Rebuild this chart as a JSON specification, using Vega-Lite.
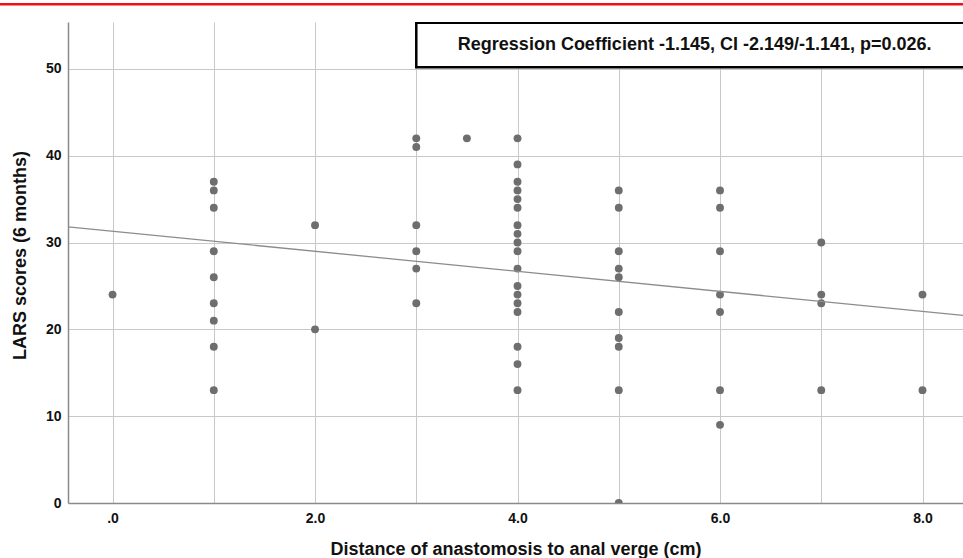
{
  "$schema": "https://vega.github.io/schema/vega-lite/v6.json",
  "width": 895,
  "height": 481,
  "autosize": {"type": "none"},
  "padding": {"left": 68, "top": 22, "right": 0, "bottom": 55},
  "background": "white",
  "config": {
    "view": {"stroke": null},
    "font": "Liberation Sans",
    "axis": {
      "labelFont": "Liberation Sans",
      "titleFont": "Liberation Sans",
      "labelFontWeight": "bold",
      "labelFontSize": 14,
      "labelColor": "#111111",
      "titleColor": "#111111",
      "titleFontWeight": "bold",
      "titleFontSize": 18,
      "gridColor": "#c8c8c8",
      "gridWidth": 1,
      "domainColor": "#8a8a8a",
      "domainWidth": 1.5,
      "ticks": false,
      "tickSize": 0
    }
  },
  "datasets": {
    "pts": [
      {"dist": 0, "lars": 24},
      {"dist": 1, "lars": 37}, {"dist": 1, "lars": 36}, {"dist": 1, "lars": 34}, {"dist": 1, "lars": 29}, {"dist": 1, "lars": 26}, {"dist": 1, "lars": 23}, {"dist": 1, "lars": 21}, {"dist": 1, "lars": 18}, {"dist": 1, "lars": 13},
      {"dist": 2, "lars": 32}, {"dist": 2, "lars": 20},
      {"dist": 3, "lars": 42}, {"dist": 3, "lars": 41}, {"dist": 3, "lars": 32}, {"dist": 3, "lars": 29}, {"dist": 3, "lars": 27}, {"dist": 3, "lars": 23},
      {"dist": 3.5, "lars": 42},
      {"dist": 4, "lars": 42}, {"dist": 4, "lars": 39}, {"dist": 4, "lars": 37}, {"dist": 4, "lars": 36}, {"dist": 4, "lars": 35}, {"dist": 4, "lars": 34}, {"dist": 4, "lars": 32}, {"dist": 4, "lars": 31}, {"dist": 4, "lars": 30}, {"dist": 4, "lars": 29}, {"dist": 4, "lars": 27}, {"dist": 4, "lars": 25}, {"dist": 4, "lars": 24}, {"dist": 4, "lars": 23}, {"dist": 4, "lars": 22}, {"dist": 4, "lars": 18}, {"dist": 4, "lars": 16}, {"dist": 4, "lars": 13},
      {"dist": 5, "lars": 36}, {"dist": 5, "lars": 34}, {"dist": 5, "lars": 29}, {"dist": 5, "lars": 27}, {"dist": 5, "lars": 26}, {"dist": 5, "lars": 22}, {"dist": 5, "lars": 19}, {"dist": 5, "lars": 18}, {"dist": 5, "lars": 13}, {"dist": 5, "lars": 0},
      {"dist": 6, "lars": 36}, {"dist": 6, "lars": 34}, {"dist": 6, "lars": 29}, {"dist": 6, "lars": 24}, {"dist": 6, "lars": 22}, {"dist": 6, "lars": 13}, {"dist": 6, "lars": 9},
      {"dist": 7, "lars": 30}, {"dist": 7, "lars": 24}, {"dist": 7, "lars": 23}, {"dist": 7, "lars": 13},
      {"dist": 8, "lars": 24}, {"dist": 8, "lars": 13}
    ],
    "fit": [
      {"dist": -0.44, "lars": 31.81},
      {"dist": 8.40, "lars": 21.60}
    ],
    "note": [
      {"label": "Regression Coefficient -1.145, CI -2.149/-1.141, p=0.026."}
    ]
  },
  "layer": [
    {
      "data": {"name": "pts"},
      "mark": {"type": "circle", "size": 62, "color": "#6e6e6e", "opacity": 1, "clip": true},
      "encoding": {
        "x": {
          "field": "dist", "type": "quantitative",
          "scale": {"domain": [-0.44, 8.40], "nice": false, "zero": false},
          "axis": {
            "title": "Distance of anastomosis to anal verge (cm)",
            "values": [0, 1, 2, 3, 4, 5, 6, 7, 8],
            "labelExpr": "datum.value % 2 == 0 ? (datum.value == 0 ? '.0' : format(datum.value, '.1f')) : ''",
            "labelPadding": 8,
            "titleY": 46,
            "titleBaseline": "middle",
            "grid": true
          }
        },
        "y": {
          "field": "lars", "type": "quantitative",
          "scale": {"domain": [0, 55.4], "nice": false, "zero": true},
          "axis": {
            "title": "LARS scores (6 months)",
            "values": [0, 10, 20, 30, 40, 50],
            "labelPadding": 7,
            "titleX": -48,
            "titleY": 233,
            "titleBaseline": "middle",
            "titleAlign": "center",
            "titleAngle": -90,
            "grid": true
          }
        }
      }
    },
    {
      "data": {"name": "fit"},
      "mark": {"type": "line", "color": "#8c8c8c", "strokeWidth": 1.3, "clip": true},
      "encoding": {
        "x": {"field": "dist", "type": "quantitative"},
        "y": {"field": "lars", "type": "quantitative"}
      }
    },
    {
      "data": {"name": "note"},
      "mark": {"type": "rect", "fill": "white", "stroke": "black", "strokeWidth": 2.5, "clip": true},
      "encoding": {
        "x": {"datum": 3.0},
        "x2": {"datum": 8.7},
        "y": {"datum": 50.2},
        "y2": {"datum": 55.3}
      }
    },
    {
      "data": {"name": "note"},
      "mark": {"type": "text", "fontSize": 18, "fontWeight": "bold", "color": "#111111", "align": "center", "baseline": "middle"},
      "encoding": {
        "x": {"datum": 5.75},
        "y": {"datum": 52.75},
        "text": {"field": "label"}
      }
    },
    {
      "data": {"name": "note"},
      "mark": {"type": "rule", "color": "#ee1111", "strokeWidth": 2.5, "clip": false},
      "encoding": {
        "x": {"datum": -1.12},
        "x2": {"datum": 8.41},
        "y": {"datum": 57.45}
      }
    }
  ]
}
